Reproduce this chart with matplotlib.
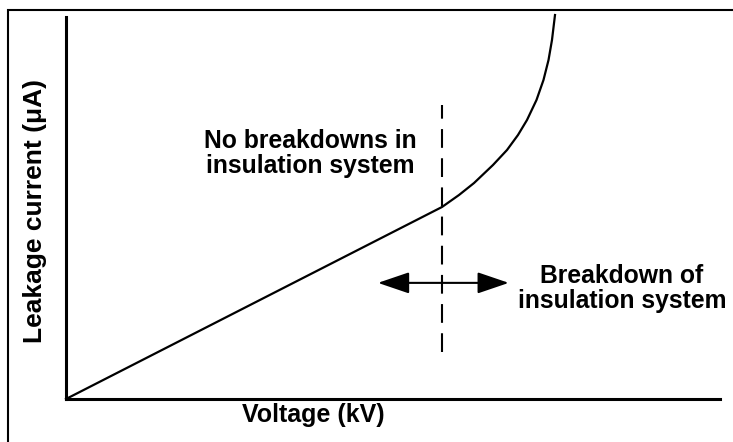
import matplotlib.pyplot as plt
from matplotlib.patches import Rectangle

# curve (voltage, leakage current), arbitrary units 0-100
voltage = [0, 57.49, 60.09, 62.39, 65.29, 67.43, 69.11, 70.49, 71.94, 73.01,
           73.78, 74.31, 74.77]
current = [0, 50.26, 53.40, 56.54, 61.26, 65.18, 69.11, 73.04, 78.27, 83.51,
           88.74, 93.98, 100.52]

breakdown_v = 57.5
dash_span = [12.3, 77.0]
arrow_span = [47.7, 67.7]
arrow_y = 30.4

plt.rcParams['font.family'] = ['Liberation Sans', 'DejaVu Sans']

fig = plt.figure(figsize=(7.33, 4.42), dpi=100)
ax = fig.add_axes([66 / 733, 1 - 399 / 442, 654 / 733, 382 / 442])

ax.plot(voltage, current, color='black', lw=1.6, clip_on=False)
ax.plot([breakdown_v, breakdown_v], dash_span, color='black', lw=1.5,
        dashes=(9, 5))
ax.annotate('', xy=(arrow_span[0], arrow_y), xytext=(arrow_span[1], arrow_y),
            arrowprops=dict(arrowstyle='<|-|>,head_length=0.97,head_width=0.33',
                            mutation_scale=20, color='black', lw=1.5,
                            shrinkA=0, shrinkB=0))

ax.text(37.3, 64.3, 'No breakdowns in\ninsulation system', ha='center',
        va='center', fontsize=17.8, fontweight='bold', linespacing=1.07)
ax.text(85.0, 29.0, 'Breakdown of\ninsulation system', ha='center',
        va='center', fontsize=17.8, fontweight='bold', linespacing=1.03)

ax.set_xlim(0, 100)
ax.set_ylim(0, 100)
ax.set_xticks([])
ax.set_yticks([])
for s in ['top', 'right']:
    ax.spines[s].set_visible(False)
for s in ['left', 'bottom']:
    ax.spines[s].set_linewidth(2.2)

fig.text(313 / 733, 1 - 415 / 442, 'Voltage (kV)', ha='center', va='center',
         fontsize=18, fontweight='bold')
fig.text(35 / 733, 1 - 211 / 442, 'Leakage current (μA)', ha='center',
         va='center', rotation=90, fontsize=19, fontweight='bold')

fig.patches.append(Rectangle((8 / 733, -0.1), 1.2, 1.1 - 10 / 442,
                             transform=fig.transFigure, fill=False,
                             edgecolor='black', lw=1.5))

fig.savefig('out.png', dpi=100)
